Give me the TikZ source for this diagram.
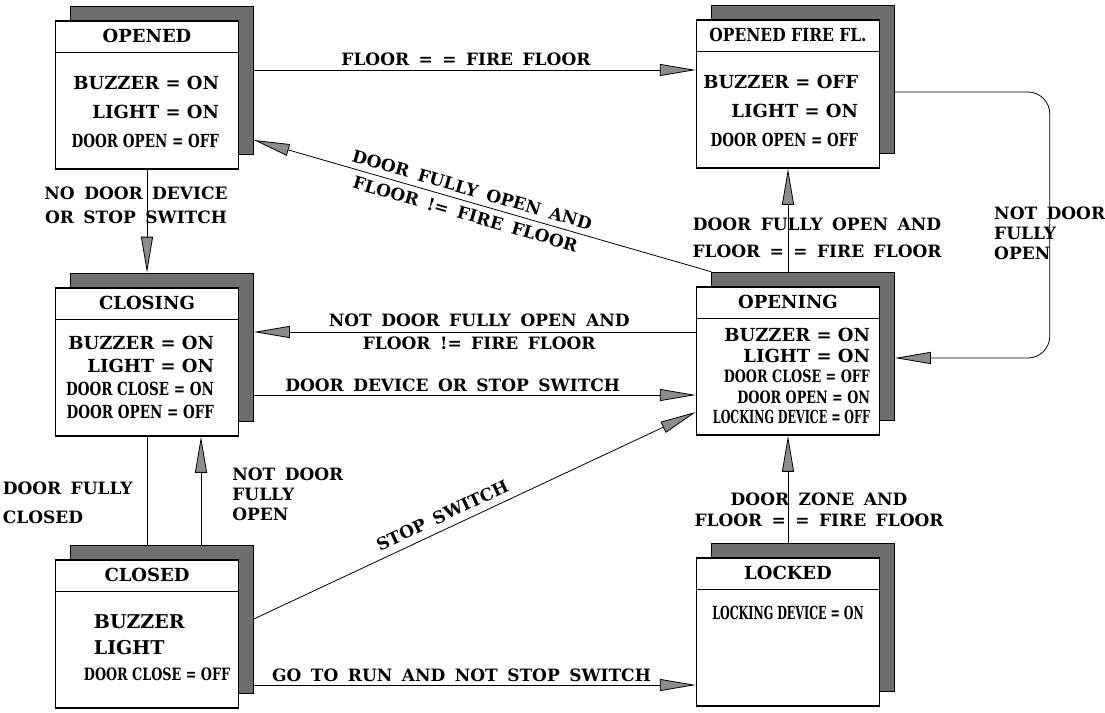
\documentclass[tikz,border=0pt]{standalone}
\usepackage{fontspec}
\setmainfont{DejaVu Serif}
\newfontfamily\condfont{DejaVu Serif}[FakeStretch=0.75]
\newfontfamily\narrowfont{DejaVu Serif}[FakeStretch=0.62]
\newfontfamily\semicondfont{DejaVu Serif}[FakeStretch=0.86]
\newfontfamily\lblfont{DejaVu Serif}[WordSpace=1.6]
\usepackage{tikz}
\usetikzlibrary{positioning,calc,arrows.meta}
\definecolor{shadowgray}{RGB}{110,110,110}

% state box: name, centre, title
\newcommand{\stbox}[3]{%
  \node[backdrop] (#1-s) at ($(#2)+(15,-15)$) {};
  \node[state] (#1) at (#2) {};
  \node[stitle] (#1-t) at ([yshift=-16pt]#1.north) {#3};
  \draw[line width=1.5pt] ([yshift=-32pt]#1.north west) -- ([yshift=-32pt]#1.north east);
}

\begin{document}
\begin{tikzpicture}[x=1pt, y=-1pt,
    state/.style={draw, line width=1.5pt, fill=white, minimum width=183pt, minimum height=148pt, inner sep=0pt},
    backdrop/.style={draw, line width=0.6pt, fill=shadowgray, minimum width=183pt, minimum height=148pt, inner sep=0pt},
    stitle/.style={font=\bfseries\fontsize{18}{20}\selectfont},
    body/.style={font=\bfseries\fontsize{18}{29}\selectfont, align=right, inner sep=0pt},
    lbl/.style={font=\lblfont\bfseries\fontsize{17}{25}\selectfont, inner sep=1pt},
    arr/.style={line width=0.8pt, -{Triangle[length=36pt, width=12pt, fill=black!45]}}]
\useasboundingbox (0,0) rectangle (1105,712);

% states
\stbox{opened}{147,95}{OPENED}
\stbox{openedff}{788,94}{\semicondfont OPENED FIRE FL.}
\stbox{closing}{147,362}{CLOSING}
\stbox{opening}{788,361}{OPENING}
\stbox{closed}{147,634}{CLOSED}
\stbox{locked}{788,632}{LOCKED}

\node[body, anchor=east] (opened-b) at ([xshift=-20pt, yshift=-17pt]opened.east)
  {BUZZER = ON\\LIGHT = ON\\{\condfont DOOR OPEN = OFF}};
\node[body, anchor=east] (openedff-b) at ([xshift=-22pt, yshift=-17pt]openedff.east)
  {BUZZER = OFF\\LIGHT = ON\\{\condfont DOOR OPEN = OFF}};
\node[body, anchor=east, font=\bfseries\fontsize{18}{23}\selectfont] (closing-b) at ([xshift=-25pt, yshift=-15pt]closing.east)
  {BUZZER = ON\\LIGHT = ON\\{\condfont DOOR CLOSE = ON}\\{\condfont DOOR OPEN = OFF}};
\node[body, anchor=east, font=\bfseries\fontsize{18}{20.5}\selectfont] (opening-b) at ([xshift=-10pt, yshift=-15pt]opening.east)
  {BUZZER = ON\\LIGHT = ON\\{\condfont\fontsize{17}{20.5}\selectfont DOOR CLOSE = OFF}\\{\condfont\fontsize{17}{20.5}\selectfont DOOR OPEN = ON}\\{\narrowfont LOCKING DEVICE = OFF}};
\node[body, anchor=west, align=left, font=\bfseries\fontsize{19}{26}\selectfont] (closed-b) at ([xshift=29pt, yshift=-14pt]closed.west)
  {\hspace*{10pt}BUZZER\\\hspace*{10pt}LIGHT\\{\condfont\fontsize{17}{26}\selectfont DOOR CLOSE = OFF}};
\node[body, font=\narrowfont\bfseries\fontsize{18}{20}\selectfont] (locked-b) at ([yshift=19pt]locked.center)
  {LOCKING DEVICE = ON};

% transitions
\draw[arr] ([yshift=10pt]opened-s.east) -- ([yshift=10pt]opened-s.east -| openedff.west)
  node[lbl, pos=0.48, above=3pt] {FLOOR = = FIRE FLOOR};
\draw[arr] (opening-s.north west) -- ([yshift=-60pt]opened-s.east)
  node[lbl, sloped, pos=0.53, align=center] {DOOR FULLY OPEN AND\\FLOOR != FIRE FLOOR};
\draw[arr] (opened.south) -- (opened.south |- closing-s.north)
  node[lbl, pos=0.35, align=center, xshift=-11pt, font=\lblfont\bfseries\fontsize{17}{24}\selectfont] {NO DOOR DEVICE\\OR STOP SWITCH};
\draw[arr] (opening.north |- opening-s.north) -- (openedff.south)
  node[lbl, pos=0.33, align=center, xshift=29pt, font=\lblfont\bfseries\fontsize{17}{27}\selectfont] {DOOR FULLY OPEN AND\\FLOOR = = FIRE FLOOR};
\draw[arr, rounded corners=22pt] ([yshift=-13pt]openedff-s.east) -- ++(155,0) |- ([yshift=-12pt]opening-s.east)
  node[lbl, pos=0.265, anchor=west, xshift=-57pt, align=left, font=\lblfont\bfseries\fontsize{17}{20}\selectfont] {NOT DOOR\\FULLY\\OPEN};
\draw[arr] ([yshift=29pt]opening.west) -- ([yshift=29pt]opening.west -| closing-s.east)
  node[lbl, pos=0.49, align=center, font=\lblfont\bfseries\fontsize{17}{23}\selectfont] {NOT DOOR FULLY OPEN AND\\FLOOR != FIRE FLOOR};
\draw[arr] ([yshift=-48pt]closing-s.east) -- ([yshift=-48pt]closing-s.east -| opening.west)
  node[lbl, pos=0.45, above=2pt] {DOOR DEVICE OR STOP SWITCH};
\draw[arr] (closed-s.east) -- ([yshift=-51pt]opening.west)
  node[lbl, sloped, pos=0.44, above=6pt] {STOP SWITCH};
\draw[line width=0.8pt] (closing.south) -- (closing.south |- closed-s.north)
  node[lbl, pos=0.61, anchor=east, xshift=-13pt, align=left, font=\lblfont\bfseries\fontsize{17}{29}\selectfont] {DOOR FULLY\\CLOSED};
\draw[arr] ([xshift=54pt]closing.south |- closed-s.north) -- ([xshift=54pt]closing.south)
  node[lbl, pos=0.47, anchor=west, xshift=30pt, align=left, font=\lblfont\bfseries\fontsize{17}{20}\selectfont] {NOT DOOR\\FULLY\\OPEN};
\draw[arr] ([yshift=-66pt]closed-s.east) -- ([yshift=-66pt]closed-s.east -| locked.west)
  node[lbl, pos=0.47, above=2pt] {GO TO RUN AND NOT STOP SWITCH};
\draw[arr] (locked.north |- locked-s.north) -- (opening.south)
  node[lbl, pos=0.31, align=center, xshift=31pt, font=\lblfont\bfseries\fontsize{17}{21}\selectfont] {DOOR ZONE AND\\FLOOR = = FIRE FLOOR};
\end{tikzpicture}
\end{document}
